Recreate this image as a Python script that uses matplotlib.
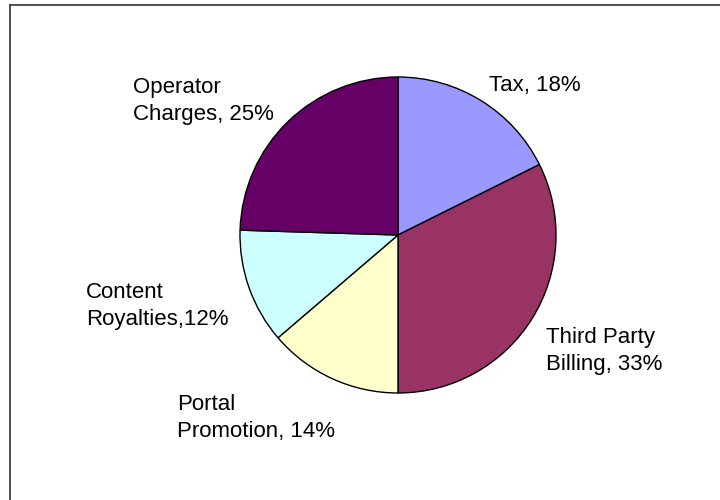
import matplotlib
matplotlib.use("Agg")
import matplotlib.pyplot as plt
from matplotlib.lines import Line2D

# revenue split, clockwise from 12 o'clock
categories = ["Tax", "Third Party Billing", "Portal Promotion", "Content Royalties", "Operator Charges"]
shares = [18, 33, 14, 12, 25]
colors = ["#9999FF", "#993366", "#FFFFCC", "#CCFFFF", "#660066"]
label_text = ["Tax, 18%", "Third Party\nBilling, 33%", "Portal\nPromotion, 14%",
              "Content\nRoyalties,12%", "Operator\nCharges, 25%"]

W, H = 720, 500
fig = plt.figure(figsize=(W / 100, H / 100), dpi=100)
plt.rcParams["font.family"] = ["Liberation Sans", "DejaVu Sans"]

cx, cy, r = 398, 235, 158
ax = fig.add_axes([(cx - r) / W, (H - cy - r) / H, 2 * r / W, 2 * r / H])
ax.pie(shares, colors=colors, startangle=90, counterclock=False,
       wedgeprops=dict(edgecolor="black", linewidth=1.0))
ax.set_xlim(-1, 1); ax.set_ylim(-1, 1)
ax.set_aspect("equal")
ax.axis("off")

# label anchors (left edge, vertical centre of the block) in pixels
label_pos = [(489, 85), (546, 351), (177, 418), (86, 306), (133, 101)]
for txt, (px, py) in zip(label_text, label_pos):
    fig.text(px / W, 1 - py / H, txt, ha="left", va="center",
             fontsize=16, linespacing=1.32, color="black")

# chart-area border (top and left edges)
fig.add_artist(Line2D([10 / W, 10 / W], [0, 1 - 5 / H], color="#333333", lw=1.2))
fig.add_artist(Line2D([10 / W, 1], [1 - 5 / H, 1 - 5 / H], color="#333333", lw=1.2))

fig.savefig("out.png", dpi=100)
